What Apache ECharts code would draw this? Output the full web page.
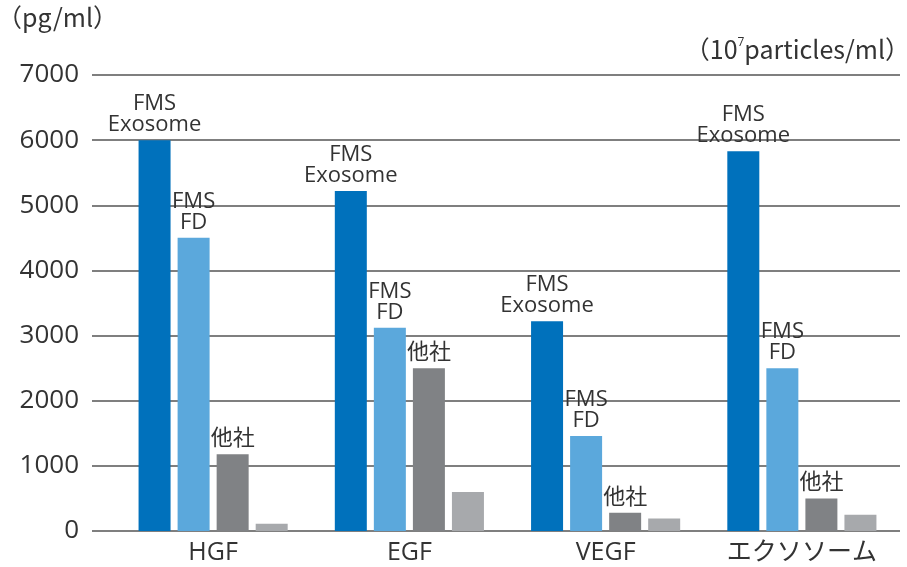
<!DOCTYPE html>
<html><head><meta charset="utf-8">
<script src="https://cdn.jsdelivr.net/npm/echarts@6/dist/echarts.min.js"></script>
<style>html,body{margin:0;padding:0;background:#fff}#c{width:907px;height:567px}</style>
</head><body><div id="c"></div>
<script>
const categories = ['HGF', 'EGF', 'VEGF', 'エクソソーム'];
const fmsExosome = [6000, 5220, 3220, 5830];
const fmsFD = [4500, 3120, 1460, 2500];
const others = [1180, 2500, 280, 500];
const fourth = [110, 600, 190, 250];
const yTicks = [0, 1000, 2000, 3000, 4000, 5000, 6000, 7000];
const labelExo = 'FMS\nExosome';
const labelFD = 'FMS\nFD';
const labelOther = '他社';

const FONT = '"Open Sans", "Noto Sans CJK JP", sans-serif';
const CJK = '"Noto Sans CJK JP", "Open Sans", sans-serif';
const TXT = '#333';
const chart = echarts.init(document.getElementById('c'));
const lab = (t) => ({show: true, position: 'top', distance: 5, formatter: t, color: TXT, fontFamily: FONT, fontSize: 22, lineHeight: 21});
chart.setOption({
  animation: false,
  title: [
    {text: '（pg/ml）', left: -8, top: 0, textStyle: {fontFamily: CJK, fontSize: 25, fontWeight: 'normal', color: TXT}},
    {text: '（10{s|7}particles/ml）', right: -8, top: 32, textStyle: {fontFamily: CJK, fontSize: 25, fontWeight: 'normal', color: TXT, rich: {s: {fontSize: 12, verticalAlign: 'top', fontFamily: FONT, color: TXT, padding: [0, 0, 12, 0]}}}}
  ],
  grid: [
    {left: 115, right: 7, top: 75, bottom: 36},
    {left: 92, right: 7, top: 75, bottom: 36}
  ],
  xAxis: [
    {type: 'category', gridIndex: 0, data: categories, axisLine: {show: false}, axisTick: {show: false},
     axisLabel: {color: TXT, fontFamily: FONT, fontSize: 25, margin: 9, interval: 0}},
    {type: 'value', gridIndex: 1, show: false}
  ],
  yAxis: [
    {type: 'value', gridIndex: 0, min: 0, max: 7000, interval: 1000, show: false},
    {type: 'value', gridIndex: 1, min: yTicks[0], max: yTicks[yTicks.length - 1], interval: 1000,
     axisLine: {show: false}, axisTick: {show: false},
     axisLabel: {color: TXT, fontFamily: FONT, fontSize: 26, margin: 13, formatter: (v) => String(v)},
     splitLine: {show: true, lineStyle: {color: '#555', width: 1.5}}}
  ],
  series: [
    {type: 'bar', data: fmsExosome, barWidth: 32, barGap: '22%', itemStyle: {color: '#0071BC'}, label: lab(labelExo)},
    {type: 'bar', data: fmsFD, barWidth: 32, barGap: '22%', itemStyle: {color: '#5BA8DC'}, label: lab(labelFD)},
    {type: 'bar', data: others, barWidth: 32, barGap: '22%', itemStyle: {color: '#808285'}, label: lab(labelOther)},
    {type: 'bar', data: fourth, barWidth: 32, barGap: '22%', itemStyle: {color: '#A7A9AC'}}
  ]
});
</script></body></html>
